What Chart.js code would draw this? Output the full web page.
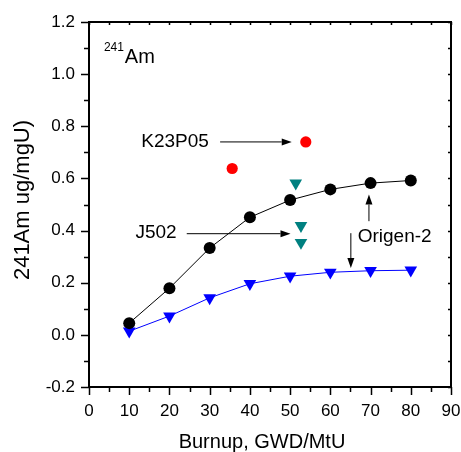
<!DOCTYPE html>
<html><head><meta charset="utf-8">
<script src="https://cdn.jsdelivr.net/npm/chart.js@4/dist/chart.umd.min.js"></script>
<style>html,body{margin:0;padding:0;background:#fff}canvas{display:block}</style>
</head><body>
<canvas id="c" width="461" height="452" style="width:461px;height:452px"></canvas>
<script>
// ---- data ----
const burnup = [10, 20, 30, 40, 50, 60, 70, 80];
const origenBlack = [0.045, 0.179, 0.333, 0.451, 0.517, 0.558, 0.582, 0.592];
const origenBlue = [0.014, 0.072, 0.142, 0.196, 0.225, 0.240, 0.246, 0.248];
const j502Burnup = [51.4, 52.7, 52.7];
const j502Am = [0.582, 0.419, 0.354];
const k23Burnup = [35.6, 53.9];
const k23Am = [0.638, 0.740];
const xTicks = [0, 10, 20, 30, 40, 50, 60, 70, 80, 90];
const yTicks = [-0.2, 0.0, 0.2, 0.4, 0.6, 0.8, 1.0, 1.2];
const xTitle = 'Burnup, GWD/MtU';
const yTitle = '241Am ug/mgU)';

const FONT = '"Liberation Sans", Arial, sans-serif';
const pts = (xs, ys) => xs.map((x, i) => ({x: x, y: ys[i]}));

function arrow(ctx, x1, y1, x2, y2) {
  const a = Math.atan2(y2 - y1, x2 - x1), L = 10, W = 3.5;
  ctx.beginPath(); ctx.moveTo(x1, y1);
  ctx.lineTo(x2 - L * Math.cos(a), y2 - L * Math.sin(a)); ctx.stroke();
  ctx.beginPath(); ctx.moveTo(x2, y2);
  ctx.lineTo(x2 - L * Math.cos(a) - W * Math.sin(a), y2 - L * Math.sin(a) + W * Math.cos(a));
  ctx.lineTo(x2 - L * Math.cos(a) + W * Math.sin(a), y2 - L * Math.sin(a) - W * Math.cos(a));
  ctx.closePath(); ctx.fill();
}

const decor = {
  id: 'decor',
  afterDraw(chart) {
    const ctx = chart.ctx, xs = chart.scales.x, ys = chart.scales.y;
    const X = v => xs.getPixelForValue(v), Y = v => ys.getPixelForValue(v);
    const a = chart.chartArea;
    ctx.save();
    ctx.strokeStyle = '#000'; ctx.fillStyle = '#000';
    // frame
    ctx.lineWidth = 2;
    ctx.strokeRect(a.left, a.top, a.right - a.left, a.bottom - a.top);
    // ticks
    ctx.lineWidth = 1.5;
    ctx.beginPath();
    for (let v = 0; v <= 90; v += 5) {
      const px = Math.round(X(v)) + 0.5, major = v % 10 === 0;
      ctx.moveTo(px, a.bottom); ctx.lineTo(px, a.bottom + (major ? 8 : 5));
      ctx.moveTo(px, a.top); ctx.lineTo(px, a.top + 3);
    }
    for (let i = -2; i <= 12; i++) {
      const v = i / 10, py = Math.round(Y(v)) + 0.5, major = i % 2 === 0;
      ctx.moveTo(a.left, py); ctx.lineTo(a.left - (major ? 8 : 5), py);
      ctx.moveTo(a.right, py); ctx.lineTo(a.right - 3, py);
    }
    ctx.stroke();
    // axis titles
    ctx.font = '20px ' + FONT;
    ctx.textAlign = 'center'; ctx.textBaseline = 'middle';
    ctx.fillText(xTitle, 262, 442);
    ctx.save();
    ctx.translate(23, 200);
    ctx.rotate(-Math.PI / 2);
    ctx.font = '22px ' + FONT;
    ctx.fillText(yTitle, 0, 0);
    ctx.restore();
    // 241Am label
    ctx.textAlign = 'left'; ctx.textBaseline = 'alphabetic';
    ctx.font = '12px ' + FONT;
    ctx.fillText('241', X(3.7), Y(1.088));
    ctx.font = '20px ' + FONT;
    ctx.fillText('Am', X(8.9), Y(1.043));
    // annotations
    ctx.font = '19px ' + FONT;
    ctx.textBaseline = 'middle';
    ctx.textAlign = 'right';
    ctx.fillText('K23P05', X(29.8), Y(0.74));
    ctx.fillText('J502', X(21.8), Y(0.39));
    ctx.textAlign = 'left';
    ctx.fillText('Origen-2', X(66.8), Y(0.378));
    ctx.lineWidth = 1;
    arrow(ctx, X(32.6), Y(0.74), X(50.4), Y(0.74));
    arrow(ctx, X(24.3), Y(0.388), X(50.1), Y(0.388));
    arrow(ctx, X(69.6), Y(0.436), X(69.6), Y(0.538));
    arrow(ctx, X(65.1), Y(0.39), X(65.1), Y(0.256));
    ctx.restore();
  }
};

new Chart(document.getElementById('c'), {
  type: 'scatter',
  data: {
    datasets: [
      {label: 'Origen-2 a', data: pts(burnup, origenBlack), showLine: true,
       borderColor: '#000', borderWidth: 1, backgroundColor: '#000',
       pointRadius: 6, pointStyle: 'circle', pointBorderWidth: 0},
      {label: 'Origen-2 b', data: pts(burnup, origenBlue), showLine: true,
       borderColor: '#0000ff', borderWidth: 1, backgroundColor: '#0000ff',
       pointRadius: 7.3, pointStyle: 'triangle', rotation: 180, pointBorderWidth: 0},
      {label: 'J502', data: pts(j502Burnup, j502Am), showLine: false,
       backgroundColor: '#008080', borderColor: '#008080',
       pointRadius: 7.3, pointStyle: 'triangle', rotation: 180, pointBorderWidth: 0},
      {label: 'K23P05', data: pts(k23Burnup, k23Am), showLine: false,
       backgroundColor: '#ff0000', borderColor: '#ff0000',
       pointRadius: 5.6, pointStyle: 'circle', pointBorderWidth: 0}
    ]
  },
  options: {
    responsive: false, animation: false, devicePixelRatio: 1,
    layout: {padding: {left: 0, top: 22, right: 10, bottom: 0}},
    plugins: {legend: {display: false}, tooltip: {enabled: false}},
    scales: {
      x: {
        type: 'linear', min: 0, max: 90,
        afterBuildTicks: s => { s.ticks = xTicks.map(v => ({value: v})); },
        afterFit: s => { s.height = 65; s.paddingLeft = 0; s.paddingRight = 0; },
        grid: {display: false, drawTicks: false}, border: {display: false},
        ticks: {color: '#000', font: {family: FONT, size: 17}, padding: 14, maxRotation: 0,
                callback: v => String(v)}
      },
      y: {
        type: 'linear', min: -0.2, max: 1.2,
        afterBuildTicks: s => { s.ticks = yTicks.map(v => ({value: v})); },
        afterFit: s => { s.width = 89; s.paddingTop = 0; s.paddingBottom = 0; },
        grid: {display: false, drawTicks: false}, border: {display: false},
        ticks: {color: '#000', font: {family: FONT, size: 17}, padding: 14,
                callback: v => Number(v).toFixed(1)}
      }
    }
  },
  plugins: [decor]
});
</script>
</body></html>
